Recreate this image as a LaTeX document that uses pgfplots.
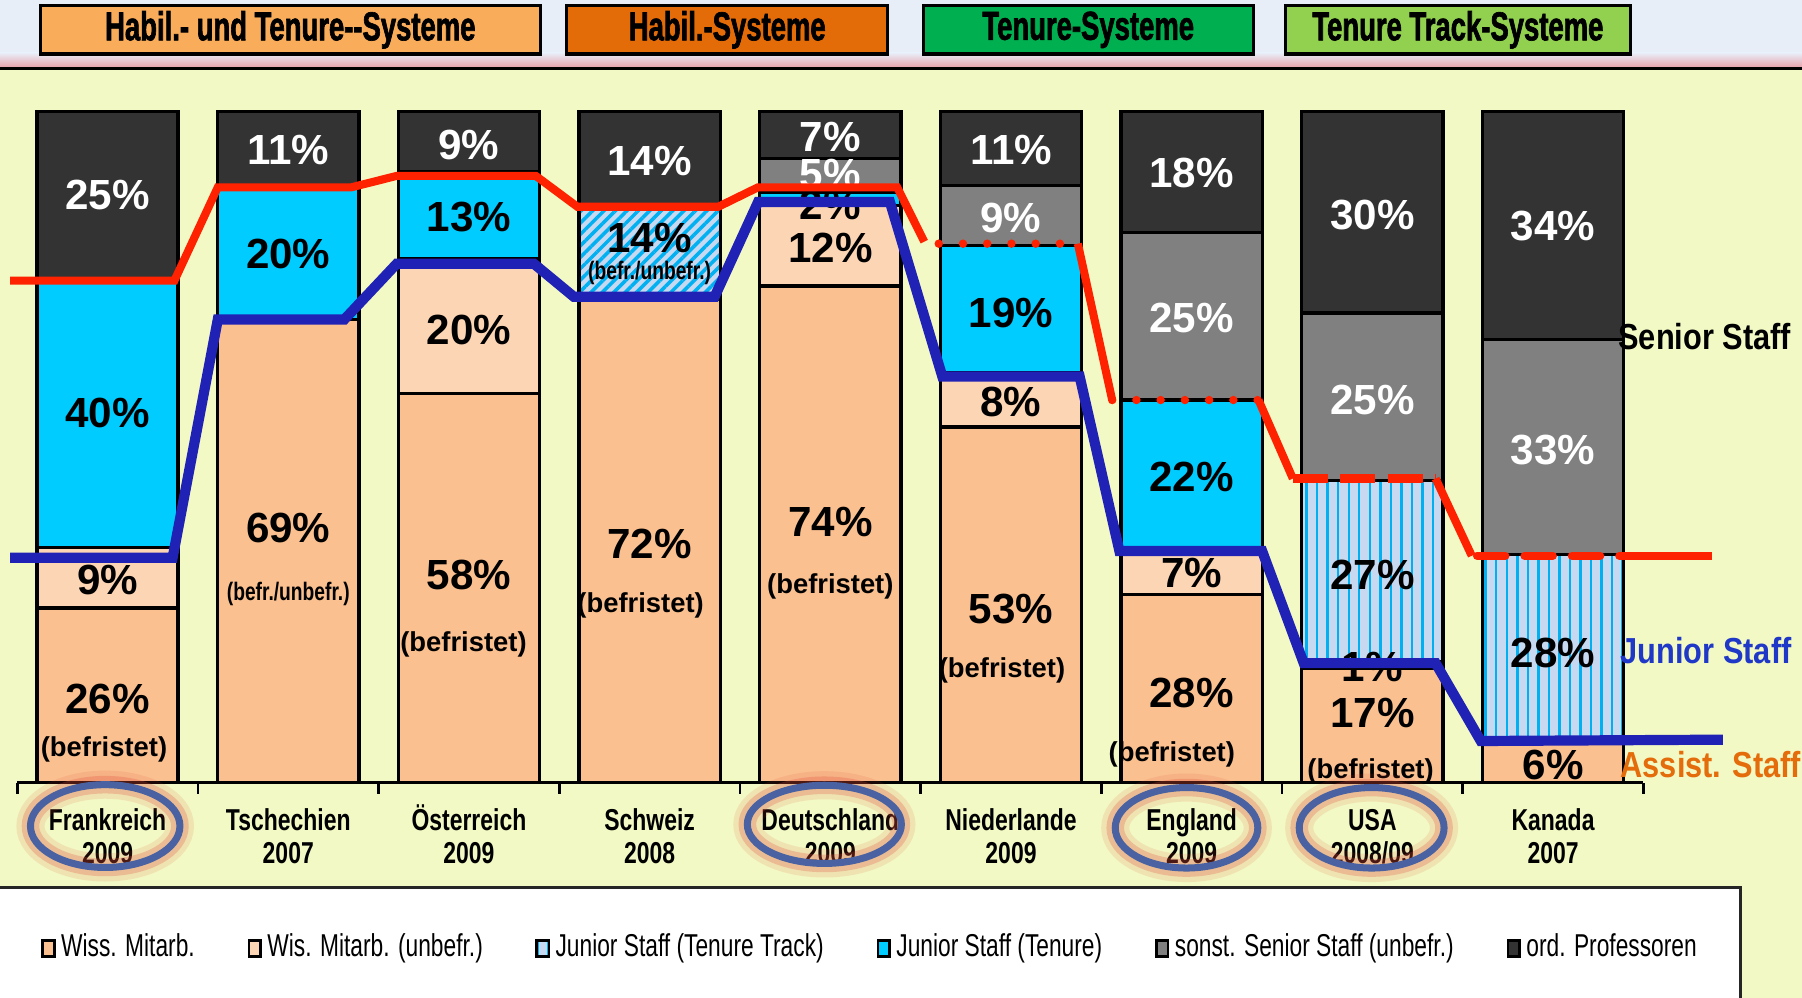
\documentclass[border=0pt]{standalone}
\usepackage{fontspec}
\setmainfont{Liberation Sans}
\newfontfamily\nrw{Liberation Sans}[FakeStretch=0.76]
\newfontfamily\nrwhead{Liberation Sans}[FakeStretch=0.68, BoldFeatures={FakeBold=1.6}]
\newfontfamily\nrwleg{Liberation Sans}[FakeStretch=0.72]
\newfontfamily\nrwside{Liberation Sans}[FakeStretch=0.85]
\usepackage{pgfplots}
\pgfplotsset{compat=1.18}
\usetikzlibrary{patterns.meta}

\definecolor{topbg}{HTML}{E8EEF8}
\definecolor{pinkband}{HTML}{E8A0AA}
\definecolor{chartbg}{HTML}{F2F9C4}
\definecolor{hdrA}{HTML}{F9AD5B}
\definecolor{hdrB}{HTML}{E36C09}
\definecolor{hdrC}{HTML}{00B050}
\definecolor{hdrD}{HTML}{92D050}
\definecolor{wissbef}{HTML}{FAC090}
\definecolor{wissunb}{HTML}{FCD5B5}
\definecolor{ttbg}{HTML}{C6D9F1}
\definecolor{ttline}{HTML}{00B0F0}
\definecolor{tenure}{HTML}{00CCFF}
\definecolor{senior}{HTML}{808080}
\definecolor{prof}{HTML}{333333}
\definecolor{redline}{HTML}{FF2200}
\definecolor{blueline}{HTML}{1F22B4}
\definecolor{juniortxt}{HTML}{2038C8}
\definecolor{assisttxt}{HTML}{E46C0A}
\definecolor{ringblue}{HTML}{4A62A2}
\definecolor{ringglow}{HTML}{E04838}

\pgfplotsset{
  sqlegend/.style={legend image code/.code={\draw[##1,line width=0.7pt] (0pt,-2.4pt) rectangle (3.3pt,2.2pt);}},
}

% shares per country, bottom to top
\pgfplotstableread{
x wbef wunb ttv ttd ten sen prof
0 26  9  0  0 40  0 25
1 69  0  0  0 20  0 11
2 58 20  0  0 13  0  9
3 72  0  0 14  0  0 14
4 74 12  0  0  2  5  7
5 53  8  0  0 19  9 11
6 28  7  0  0 22 25 18
7 17  1 27  0  0 25 30
8  6  0 28  0  0 32 34
}\shares

\newcommand{\tl}[2]{\rule{0pt}{1.02em}#1\\#2}

\tikzset{
  pb/.style={font=\bfseries\fontsize{12}{12}\selectfont, inner sep=0pt},
  pw/.style={pb, text=white},
  ps/.style={font=\bfseries\fontsize{7.8}{8}\selectfont, inner sep=0pt},
  pn/.style={font=\nrw\bfseries\fontsize{7.2}{8}\selectfont, inner sep=0pt},
}

\begin{document}
\begin{tikzpicture}
\path[use as bounding box] (0,0) rectangle (18.032cm,9.982cm);

% background and header, in pixel units of the 1568x868 view
\begin{scope}[x=0.0115cm, y=-0.0115cm, yshift=9.982cm]
  \fill[topbg] (0,0) rectangle (1568,60);
  \shade[top color=topbg, bottom color=pinkband] (0,46) rectangle (1568,59);
  \fill[chartbg] (0,60) rectangle (1568,868);
  \draw[black, line width=0.8pt] (0,59.5) -- (1568,59.5);
  \fill[white] (0,772) rectangle (1514,868);
  \draw[black!85, line width=1pt] (0,772) -- (1514,772) -- (1514,868);
  \draw[black, line width=0.9pt, fill=hdrA] (35,5) rectangle (470,47);
  \draw[black, line width=0.9pt, fill=hdrB] (493,5) rectangle (772,47);
  \draw[black, line width=0.9pt, fill=hdrC] (803,5) rectangle (1090,47);
  \draw[black, line width=0.9pt, fill=hdrD] (1118,5) rectangle (1418,47);
  \begin{scope}[every node/.style={font=\nrwhead\bfseries\fontsize{11.5}{12}\selectfont}]
    \node at (252.5,26) {Habil.- und Tenure--Systeme};
    \node at (632.5,26) {Habil.-Systeme};
    \node at (946.5,26) {Tenure-Systeme};
    \node at (1268,26) {Tenure Track-Systeme};
  \end{scope}
\end{scope}

\begin{axis}[
  at={(0.1725cm,2.1505cm)}, anchor=south west,
  scale only axis, width=16.2725cm, height=6.716cm,
  xmin=-0.5, xmax=8.5, ymin=0, ymax=100,
  ybar stacked, bar width=0.782,
  axis x line=bottom, axis y line=none,
  axis line style={-, line width=0.8pt},
  xtick={0,...,8},
  xticklabels={{\tl{Frankreich}{2009}},{\tl{Tschechien}{2007}},{\tl{Österreich}{2009}},{\tl{Schweiz}{2008}},{\tl{Deutschland}{2009}},{\tl{Niederlande}{2009}},{\tl{England}{2009}},{\tl{USA}{2008/09}},{\tl{Kanada}{2007}}},
  xticklabel style={align=center, font=\nrw\bfseries\fontsize{8.6}{9.4}\selectfont, yshift=-1.4pt},
  major tick length=0pt,
  minor xtick={-0.5,0.5,...,8.5}, minor tick length=0.11cm,
  tick align=outside, minor tick style={black, line width=0.8pt},
  ytick=\empty,
  clip=false,
  every axis plot/.append style={draw=black, line width=1pt},
  legend columns=6,
  legend style={at={(rel axis cs:0.008,-0.2466)}, anchor=west,
    draw=none, fill=none, font=\nrwleg\fontsize{9}{9}\selectfont,
    nodes={inner xsep=1.6pt},
    /tikz/every even column/.append style={column sep=13.5pt}},
  legend cell align=left,
]
\addplot[fill=wissbef, sqlegend] table[x=x, y=wbef] {\shares};
\addlegendentry{Wiss. Mitarb.}
\addplot[fill=wissunb, sqlegend] table[x=x, y=wunb] {\shares};
\addlegendentry{Wis. Mitarb. (unbefr.)}
\addplot[preaction={fill=ttbg}, pattern={Lines[angle=90, distance=3pt, line width=0.7pt]}, pattern color=ttline, sqlegend] table[x=x, y=ttv] {\shares};
\addlegendentry{Junior Staff (Tenure Track)}
\addplot[preaction={fill=ttbg}, pattern={Lines[angle=45, distance=2.3pt, line width=1pt]}, pattern color=ttline, forget plot] table[x=x, y=ttd] {\shares};
\addplot[fill=tenure, sqlegend] table[x=x, y=ten] {\shares};
\addlegendentry{Junior Staff (Tenure)}
\addplot[fill=senior, sqlegend] table[x=x, y=sen] {\shares};
\addlegendentry{sonst. Senior Staff (unbefr.)}
\addplot[fill=prof, sqlegend] table[x=x, y=prof] {\shares};
\addlegendentry{ord. Professoren}
\end{axis}

% value labels and boundary lines: senior staff (red), assistant staff (blue)
\begin{axis}[
  at={(0.1725cm,2.1505cm)}, anchor=south west,
  scale only axis, width=16.2725cm, height=6.716cm,
  xmin=-0.5, xmax=8.5, ymin=0, ymax=100,
  hide axis, clip=false,
  every axis plot/.append style={no markers, sharp plot},
]
\node[pw] at (axis cs:0,87.5) {25\%};
\node[pb] at (axis cs:0,55) {40\%};
\node[pb] at (axis cs:0,30.2) {9\%};
\node[pb] at (axis cs:0,12.5) {26\%};
\node[ps] at (axis cs:-0.02,5.0) {(befristet)};

\node[pw] at (axis cs:1,94.2) {11\%};
\node[pb] at (axis cs:1,78.8) {20\%};
\node[pb] at (axis cs:1,38) {69\%};
\node[pn] at (axis cs:1,28.1) {(befr./unbefr.)};

\node[pw] at (axis cs:2,95) {9\%};
\node[pb] at (axis cs:2,84.2) {13\%};
\node[pb] at (axis cs:2,67.5) {20\%};
\node[pb] at (axis cs:2,31) {58\%};
\node[ps] at (axis cs:1.97,20.6) {(befristet)};

\node[pw] at (axis cs:3,92.6) {14\%};
\node[pb] at (axis cs:3,81.2) {14\%};
\node[pn] at (axis cs:3,75.9) {(befr./unbefr.)};
\node[pb] at (axis cs:3,35.6) {72\%};
\node[ps] at (axis cs:2.95,26.4) {(befristet)};

\node[pw] at (axis cs:4,96.2) {7\%};
\node[pw] at (axis cs:4,90.6) {5\%};
\node[pb] at (axis cs:4,86.1) {2\%};
\node[pb] at (axis cs:4,79.6) {12\%};
\node[pb] at (axis cs:4,38.9) {74\%};
\node[ps] at (axis cs:4,29.3) {(befristet)};

\node[pw] at (axis cs:5,94.2) {11\%};
\node[pw] at (axis cs:5,84.2) {9\%};
\node[pb] at (axis cs:5,70) {19\%};
\node[pb] at (axis cs:5,56.7) {8\%};
\node[pb] at (axis cs:5,25.9) {53\%};
\node[ps] at (axis cs:4.95,16.7) {(befristet)};

\node[pw] at (axis cs:6,90.8) {18\%};
\node[pw] at (axis cs:6,69.2) {25\%};
\node[pb] at (axis cs:6,45.5) {22\%};
\node[pb] at (axis cs:6,31.2) {7\%};
\node[pb] at (axis cs:6,13.4) {28\%};
\node[ps] at (axis cs:5.89,4.2) {(befristet)};

\node[pw] at (axis cs:7,84.6) {30\%};
\node[pw] at (axis cs:7,57) {25\%};
\node[pb] at (axis cs:7,31) {27\%};
\node[pb] at (axis cs:7,17.3) {1\%};
\node[pb] at (axis cs:7,10.3) {17\%};
\node[ps] at (axis cs:6.99,1.6) {(befristet)};

\node[pw] at (axis cs:8,82.9) {34\%};
\node[pw] at (axis cs:8,49.5) {33\%};
\node[pb] at (axis cs:8,19.3) {28\%};
\node[pb] at (axis cs:8,2.6) {6\%};

\addplot[redline, line width=2.3pt] coordinates {
  (-0.54,74.8) (0.37,74.8) (0.61,88.7) (1.35,88.7) (1.6,90.4) (2.37,90.4)
  (2.6,85.8) (3.38,85.8) (3.6,88.7) (4.37,88.7) (4.52,80.6)};
\addplot[redline, line width=2.3pt] coordinates {(5.37,80.3) (5.56,57)};
\addplot[redline, line width=2.3pt] coordinates {(6.37,57) (6.56,45.3)};
\addplot[redline, line width=2.3pt] coordinates {(7.35,45.3) (7.55,33.8)};
\addplot[redline, line width=2.3pt] coordinates {(8.37,33.8) (8.88,33.8)};
\addplot[redline, line width=2.4pt, line cap=round, dash pattern=on 0pt off 6.9pt] coordinates {(4.6,80.3) (5.37,80.3)};
\addplot[redline, line width=2.4pt, line cap=round, dash pattern=on 0pt off 6.9pt] coordinates {(5.56,57) (6.37,57)};
\addplot[redline, line width=2.4pt, dash pattern=on 10pt off 3.5pt] coordinates {(6.56,45.3) (7.35,45.3)};
\addplot[redline, line width=2.4pt, line cap=round, dash pattern=on 8pt off 5.5pt] coordinates {(7.58,33.8) (8.37,33.8)};
\addplot[blueline, line width=2.9pt] coordinates {
  (-0.54,33.5) (0.36,33.5) (0.61,69) (1.31,69) (1.6,77.3) (2.36,77.3)
  (2.58,72.4) (3.36,72.4) (3.6,86.5) (4.33,86.5) (4.62,60.5) (5.38,60.5)
  (5.6,34.5) (6.39,34.5) (6.62,17.8) (7.35,17.8) (7.6,6.2) (8.94,6.4)};
\end{axis}

% rings and side labels
\begin{scope}[x=0.0115cm, y=-0.0115cm, yshift=9.982cm]
  \foreach \cx/\cy/\rx/\ry in {91.5/718.5/65/36, 717/717/67/34, 1032/720/62/35, 1193/720/63/35} {
    \draw[ringglow, line width=8pt, opacity=0.12] (\cx,\cy) ellipse [x radius=\rx, y radius=\ry];
    \draw[ringglow, line width=5pt, opacity=0.25] (\cx,\cy) ellipse [x radius=\rx, y radius=\ry];
    \draw[ringblue, line width=2pt] (\cx,\cy) ellipse [x radius=\rx, y radius=\ry];
  }
  \node[anchor=west, inner sep=0pt, font=\nrwside\bfseries\fontsize{10.3}{11}\selectfont] at (1407,293) {Senior Staff};
  \node[anchor=west, inner sep=0pt, text=juniortxt, font=\nrwside\bfseries\fontsize{10.3}{11}\selectfont] at (1409,566) {Junior Staff};
  \node[anchor=west, inner sep=0pt, text=assisttxt, font=\nrwside\bfseries\fontsize{10.3}{11}\selectfont] at (1409,665) {Assist. Staff};
\end{scope}
\end{tikzpicture}
\end{document}
